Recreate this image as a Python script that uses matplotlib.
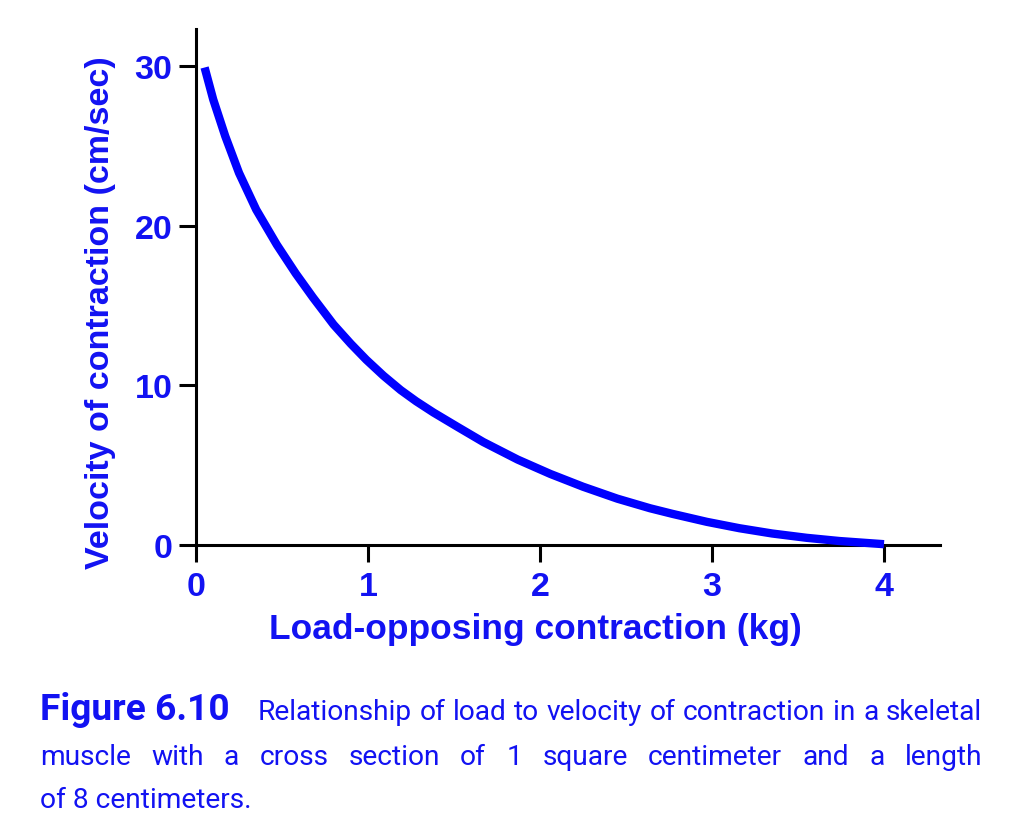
import matplotlib.pyplot as plt

# values
load_kg = [0.05, 0.10, 0.17, 0.25, 0.35, 0.47, 0.58, 0.68, 0.80, 0.90,
           0.99, 1.09, 1.19, 1.28, 1.38, 1.52, 1.67, 1.87, 2.06, 2.25,
           2.45, 2.64, 2.77, 2.97, 3.16, 3.35, 3.55, 3.74, 4.00]
velocity = [29.9, 27.9, 25.6, 23.3, 21.0, 18.8, 17.0, 15.5, 13.8, 12.6,
            11.6, 10.6, 9.7, 9.0, 8.3, 7.4, 6.45, 5.35, 4.45, 3.65,
            2.9, 2.3, 1.95, 1.45, 1.05, 0.72, 0.45, 0.25, 0.05]
x_ticks = [0, 1, 2, 3, 4]
y_ticks = [0, 10, 20, 30]
x_label = "Load-opposing contraction (kg)"
y_label = "Velocity of contraction (cm/sec)"
caption_head = "Figure 6.10"
caption_lines = [
    "Relationship of load to velocity of contraction in a skeletal",
    "muscle with a cross section of 1 square centimeter and a length",
    "of 8 centimeters.",
]

BLUE = "#0000ff"
TEXT_BLUE = "#1212f2"
W, H = 1024, 837

plt.rcParams["font.family"] = ["Liberation Sans", "DejaVu Sans"]
plt.rcParams["font.weight"] = "bold"

fig = plt.figure(figsize=(W / 100, H / 100), dpi=100)
ax = fig.add_axes([196 / W, 1 - 546 / H, 744 / W, 516 / H])

ax.plot(load_kg, velocity, color=BLUE, lw=6.0, solid_capstyle="butt",
        clip_on=False, zorder=3)

ax.set_xlim(0, 744 / 172)
ax.set_ylim(0, 516 / 15.97)
ax.set_xticks(x_ticks)
ax.set_yticks(y_ticks)

for s in ["top", "right"]:
    ax.spines[s].set_visible(False)
for s in ["left", "bottom"]:
    ax.spines[s].set_linewidth(2.2)
    ax.spines[s].set_color("black")

ax.tick_params(axis="both", length=12, width=2.2, color="black",
               labelcolor=TEXT_BLUE, labelsize=24.5)
ax.tick_params(axis="x", pad=7)
ax.tick_params(axis="y", pad=5)

ax.set_xlabel(x_label, fontsize=25.5, fontweight="bold", color=TEXT_BLUE)
ax.set_ylabel(y_label, fontsize=24.5, fontweight="bold", color=TEXT_BLUE)
ax.xaxis.set_label_coords(0.456, -0.13)
ax.yaxis.set_label_coords(-0.108, 0.453)

# caption: bold head plus justified body text
fig.canvas.draw()
renderer = fig.canvas.get_renderer()


def fx(x):
    return x / W


def fy(y):
    return 1 - y / H


def text_width(t):
    return t.get_window_extent(renderer).width


cap_font = ["Liberation Sans Narrow", "Roboto", "DejaVu Sans"]

head = fig.text(fx(40), fy(720), caption_head, fontsize=26, fontweight="bold",
                family=cap_font, color=TEXT_BLUE, va="baseline")
head.set_fontsize(26 * 190 / text_width(head))

body_size = 18
probe = fig.text(0, 0, caption_lines[0], fontsize=body_size, fontweight="normal",
                 family=cap_font)
body_size *= 722 / text_width(probe)
probe.remove()


def justified(line, x0, x1, y):
    words = line.split()
    objs = [fig.text(0, fy(y), w, fontsize=body_size, fontweight="normal",
                     family=cap_font, color=TEXT_BLUE, va="baseline")
            for w in words]
    widths = [text_width(o) for o in objs]
    gap = (x1 - x0 - sum(widths)) / (len(words) - 1)
    x = x0
    for o, w in zip(objs, widths):
        o.set_x(fx(x))
        x += w + gap


justified(caption_lines[0], 258, 982, 720)
justified(caption_lines[1], 40, 982, 765)
fig.text(fx(40), fy(808), caption_lines[2], fontsize=body_size,
         fontweight="normal", family=cap_font, color=TEXT_BLUE, va="baseline")

fig.savefig("out.png", dpi=100, facecolor="white")
